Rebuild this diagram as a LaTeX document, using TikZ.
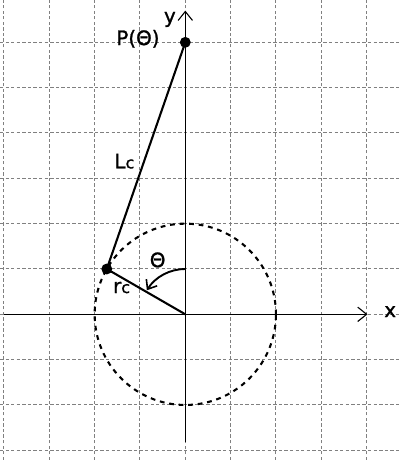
\documentclass[tikz,border=0pt]{standalone}
\usepackage{fontspec}
\setmainfont{DejaVu Sans}[FakeBold=1.2]
\usetikzlibrary{arrows.meta}
\begin{document}
\begin{tikzpicture}[x=1cm,y=1cm,
  gridline/.style={draw=black!50, line width=0.63pt, dash pattern=on 2.1pt off 1.4pt},
  axis/.style={draw=black, line width=0.7pt, -{Straight Barb[length=5.6pt,width=9pt,line width=0.7pt]}},
  bar/.style={draw=black, line width=1.3pt},
  dashcircle/.style={draw=black, line width=1.3pt, dash pattern=on 3pt off 3pt},
  dot/.style={circle, fill=black, inner sep=0pt, minimum size=0.24cm},
  lbl/.style={font=\fontsize{12.5}{13}\selectfont, inner sep=0pt}]
\useasboundingbox (-4.088,-3.214) rectangle (4.736,6.934);
\begin{scope}
\clip (-4.088,-3.214) rectangle (4.736,6.934);
\foreach \x in {-4,...,4} \draw[gridline] (\x,-3.214) -- (\x,6.934);
\foreach \y in {-3,...,6} \draw[gridline] (-4.088,\y) -- (4.736,\y);
\end{scope}
% coordinates
\coordinate (O) at (0,0);
\coordinate (xl) at (-4,0);
\coordinate (xr) at (4.02,0);
\coordinate (yb) at (0,-2.82);
\coordinate (yt) at (0,6.7);
\coordinate (T0) at (0,1);
% axes
\draw[axis] (xl) -- (xr);
\draw[axis] (yb) -- (yt);
% circle
\draw[dashcircle] (O) circle[radius=2];
% points
\node[dot] (P) at (0,6) {};
\node[dot] (A) at (150:2) {};
\draw[bar] (A.center) -- (P.center);
\draw[bar] (O) -- (A.center);
% theta arc
\draw[line width=1.2pt, -{Straight Barb[length=5pt,width=8pt,line width=1pt]}] (T0) arc[start angle=90, end angle=148, radius=1];
% labels
\node[lbl, anchor=base] (lP) at (-1.045,5.94) {P(Θ)};
\node[lbl, anchor=base] (ly) at (-0.34,6.43) {y};
\node[lbl, anchor=base] (lx) at (4.52,-0.06) {x};
\node[lbl, anchor=base west] (lL) at (-1.57,3.22) {L{\fontsize{10}{10}\selectfont c}};
\node[lbl, anchor=base west] (lr) at (-1.6,0.47) {r{\fontsize{10}{10}\selectfont c}};
\node[lbl, anchor=base] (lt) at (-0.61,1.04) {Θ};
\end{tikzpicture}
\end{document}
